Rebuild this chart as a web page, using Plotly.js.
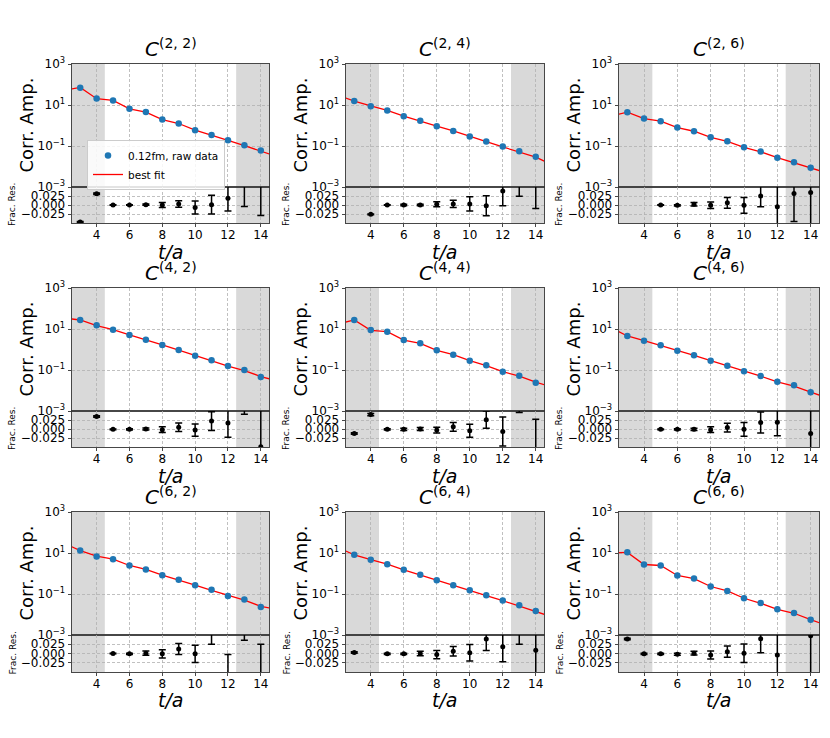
<!DOCTYPE html>
<html><head><meta charset="utf-8">
<script src="https://cdn.plot.ly/plotly-3.0.1.min.js"></script>
<style>html,body{margin:0;padding:0;background:#fff}#plot{width:830px;height:738px}</style>
</head><body><div id="plot"></div>
<script>
// ---------------- data ----------------
const tData = [3, 4, 5, 6, 7, 8, 9, 10, 11, 12, 13, 14];
const tFit  = [2, 3, 4, 5, 6, 7, 8, 9, 10, 11, 12, 13, 14, 15];
const xTicks = [4, 6, 8, 10, 12, 14];
const yMainTicks = [1e-3, 1e-1, 1e1, 1e3];
const yMainTickText = ['10<sup>−3</sup>', '10<sup>−1</sup>', '10<sup>1</sup>', '10<sup>3</sup>'];
const yResTicks = [-0.025, 0, 0.025];
const yResTickText = ['−0.025', '0.000', '0.025'];
const panelLabels = ['(2, 2)', '(2, 4)', '(2, 6)', '(4, 2)', '(4, 4)', '(4, 6)', '(6, 2)', '(6, 4)', '(6, 6)'];
const dataName = '0.12fm, raw data';
const fitName = 'best fit';

const corr_2_2 = [69.5, 20.9, 16.7, 6.5, 4.5, 1.96, 1.25, 0.59, 0.348, 0.191, 0.109, 0.0596];
const fit_2_2  = [51.5, 72.5, 20.3, 16.7, 6.5, 4.5, 1.96, 1.25, 0.594, 0.348, 0.188, 0.104, 0.057, 0.0303];
const res_2_2  = [-0.047, 0.031, 0.000, 0.000, 0.001, 0.000, 0.003, -0.007, 0.001, 0.019, 0.060, 0.060];
const err_2_2  = [0.001, 0.002, 0.001, 0.001, 0.002, 0.007, 0.009, 0.018, 0.026, 0.036, 0.064, 0.089];

const corr_2_4 = [15.5, 8.8, 5.4, 2.85, 1.69, 0.925, 0.546, 0.288, 0.164, 0.0935, 0.0553, 0.0303];
const fit_2_4  = [30.4, 15.5, 9.0, 5.4, 2.85, 1.69, 0.923, 0.544, 0.287, 0.164, 0.090, 0.052, 0.0285, 0.0123];
const res_2_4  = [null, -0.026, 0.000, 0.000, 0.000, 0.002, 0.003, 0.003, -0.002, 0.039, 0.070, 0.060];
const err_2_4  = [null, 0.001, 0.001, 0.002, 0.002, 0.007, 0.010, 0.020, 0.028, 0.041, 0.046, 0.070];

const corr_2_6 = [4.48, 2.19, 1.62, 0.79, 0.526, 0.267, 0.17, 0.0867, 0.0532, 0.027, 0.016, 0.00877];
const fit_2_6  = [2.85, 4.48, 2.19, 1.62, 0.79, 0.525, 0.267, 0.169, 0.0868, 0.052, 0.0271, 0.0155, 0.0085, 0.0048];
const res_2_6  = [null, null, 0.000, -0.001, 0.002, -0.001, 0.006, -0.001, 0.025, -0.005, 0.032, 0.035];
const err_2_6  = [null, null, 0.001, 0.002, 0.005, 0.009, 0.015, 0.022, 0.030, 0.070, 0.078, 0.100];

const corr_4_2 = [27.5, 15.1, 9.27, 5.1, 3.02, 1.66, 0.946, 0.5, 0.296, 0.157, 0.1, 0.0456];
const fit_4_2  = [34.4, 27.5, 14.6, 9.28, 5.1, 3.02, 1.66, 0.94, 0.5, 0.29, 0.154, 0.094, 0.048, 0.0291];
const res_4_2  = [null, 0.0345, -0.001, -0.001, 0.000, -0.002, 0.005, -0.003, 0.022, 0.017, 0.070, -0.049];
const err_4_2  = [null, 0.002, 0.001, 0.002, 0.003, 0.008, 0.012, 0.017, 0.026, 0.040, 0.029, 0.110];

const corr_4_4 = [27.5, 8.9, 7.4, 2.9, 2.0, 0.91, 0.56, 0.285, 0.169, 0.083, 0.053, 0.0241];
const fit_4_4  = [17.5, 27.8, 8.6, 7.4, 2.9, 2.0, 0.91, 0.556, 0.286, 0.165, 0.0836, 0.0496, 0.0259, 0.01426];
const res_4_4  = [-0.0127, 0.040, -0.001, -0.001, 0.000, -0.003, 0.006, -0.005, 0.026, -0.007, 0.070, -0.070];
const err_4_4  = [0.002, 0.003, 0.002, 0.003, 0.004, 0.008, 0.012, 0.018, 0.024, 0.040, 0.024, 0.097];

const corr_4_6 = [4.56, 2.7, 1.6, 0.877, 0.519, 0.285, 0.163, 0.086, 0.051, 0.027, 0.0179, 0.00815];
const fit_4_6  = [12.05, 4.56, 2.7, 1.6, 0.878, 0.52, 0.285, 0.163, 0.086, 0.050, 0.0265, 0.0165, 0.00826, 0.00446];
const res_4_6  = [null, null, -0.001, -0.001, -0.001, -0.002, 0.004, -0.001, 0.018, 0.019, null, -0.0127];
const err_4_6  = [null, null, 0.001, 0.002, 0.003, 0.008, 0.012, 0.019, 0.029, 0.038, null, 0.080];

const corr_6_2 = [13.3, 6.78, 5.02, 2.46, 1.57, 0.828, 0.49, 0.269, 0.159, 0.0807, 0.0535, 0.0234];
const fit_6_2  = [30.4, 13.0, 7.0, 5.02, 2.46, 1.57, 0.829, 0.484, 0.269, 0.149, 0.0865, 0.05, 0.0252, 0.0173];
const res_6_2  = [null, null, 0.000, -0.001, 0.001, -0.001, 0.012, -0.001, 0.070, -0.070, 0.070, -0.070];
const err_6_2  = [null, null, 0.001, 0.002, 0.006, 0.011, 0.015, 0.023, 0.045, 0.067, 0.034, 0.095];

const corr_6_4 = [8.18, 4.66, 2.86, 1.51, 0.86, 0.472, 0.269, 0.153, 0.087, 0.0478, 0.0282, 0.0149];
const fit_6_4  = [18.7, 8.15, 4.7, 2.86, 1.51, 0.86, 0.473, 0.268, 0.153, 0.084, 0.047, 0.0265, 0.0148, 0.0076];
const res_6_4  = [0.003, null, -0.001, -0.001, 0.000, -0.003, 0.006, 0.002, 0.039, 0.018, 0.070, 0.009];
const err_6_4  = [0.002, null, 0.002, 0.002, 0.006, 0.011, 0.013, 0.022, 0.031, 0.040, 0.045, 0.070];

const corr_6_6 = [11.0, 2.75, 2.46, 0.8, 0.569, 0.231, 0.142, 0.0621, 0.0367, 0.018, 0.0119, 0.00562];
const fit_6_6  = [10.3, 10.6, 2.75, 2.46, 0.8, 0.568, 0.232, 0.141, 0.0620, 0.0353, 0.018, 0.0115, 0.0056, 0.00286];
const res_6_6  = [0.039, -0.001, -0.001, -0.002, 0.001, -0.004, 0.005, 0.001, 0.040, -0.004, null, 0.048];
const err_6_6  = [0.002, 0.002, 0.002, 0.003, 0.005, 0.011, 0.015, 0.025, 0.038, 0.070, null, 0.100];

const corrSets = [corr_2_2, corr_2_4, corr_2_6, corr_4_2, corr_4_4, corr_4_6, corr_6_2, corr_6_4, corr_6_6];
const fitSets  = [fit_2_2, fit_2_4, fit_2_6, fit_4_2, fit_4_4, fit_4_6, fit_6_2, fit_6_4, fit_6_6];
const resSets  = [res_2_2, res_2_4, res_2_6, res_4_2, res_4_4, res_4_6, res_6_2, res_6_4, res_6_6];
const errSets  = [err_2_2, err_2_4, err_2_6, err_4_2, err_4_4, err_4_6, err_6_2, err_6_4, err_6_6];

// ---------------- layout geometry ----------------
const W = 830, H = 738;
const colPx = [[72, 269], [346, 544], [619, 819]];
const rowMainPx = [[64, 187], [288, 411], [512, 635]];
const rowResPx = [[187, 223], [411, 447], [635, 672]];
const px2x = p => p / W;
const px2y = p => 1 - p / H;

const FONT = 'DejaVu Sans';
const gridStyle = {showgrid: true, gridcolor: '#b0b0b0', gridwidth: 0.8, griddash: '3px,2px'};
const lineStyle = {showline: true, mirror: true, linecolor: '#333', linewidth: 0.9, zeroline: false};

const traces = [];
const layout = {
  width: W, height: H,
  margin: {l: 0, r: 0, t: 0, b: 0},
  paper_bgcolor: '#fff', plot_bgcolor: 'rgba(0,0,0,0)',
  font: {family: FONT, size: 12, color: '#000'},
  showlegend: true,
  legend: {
    x: px2x(87), y: px2y(140), xanchor: 'left', yanchor: 'top',
    bgcolor: 'rgba(255,255,255,0.85)', bordercolor: '#cccccc', borderwidth: 1,
    font: {family: FONT, size: 10.5}, tracegroupgap: 0, itemwidth: 30
  },
  shapes: [], annotations: []
};

const axName = (p, i) => (i === 1 ? p : p + i);

for (let k = 0; k < 9; k++) {
  const col = k % 3, row = Math.floor(k / 3);
  const mi = 2 * k + 1, ri = 2 * k + 2;
  const xd = [px2x(colPx[col][0]), px2x(colPx[col][1])];
  const ymd = [px2y(rowMainPx[row][1]), px2y(rowMainPx[row][0])];
  const yrd = [px2y(rowResPx[row][1]), px2y(rowResPx[row][0])];
  const xm = axName('x', mi), ym = axName('y', mi), xr = axName('x', ri), yr = axName('y', ri);

  layout[axName('xaxis', mi)] = Object.assign({
    domain: xd, anchor: ym, range: [2.5, 14.5], matches: xr,
    tickvals: xTicks, showticklabels: false, ticks: ''
  }, gridStyle, lineStyle);
  layout[axName('yaxis', mi)] = Object.assign({
    domain: ymd, anchor: xm, type: 'log', range: [-3, 3],
    tickvals: yMainTicks, ticktext: yMainTickText,
    ticks: 'outside', ticklen: 3.5, tickwidth: 0.9, tickcolor: '#333',
    tickfont: {family: FONT, size: 12}
  }, gridStyle, lineStyle);
  layout[axName('xaxis', ri)] = Object.assign({
    domain: xd, anchor: yr, range: [2.5, 14.5],
    tickvals: xTicks, ticks: 'outside', ticklen: 3.5, tickwidth: 0.9, tickcolor: '#333',
    tickfont: {family: FONT, size: 12}, ticklabelstandoff: -3
  }, gridStyle, lineStyle);
  layout[axName('yaxis', ri)] = Object.assign({
    domain: yrd, anchor: xr, range: [-0.05, 0.05],
    tickvals: yResTicks, ticktext: yResTickText,
    ticks: 'outside', ticklen: 3.5, tickwidth: 0.9, tickcolor: '#333',
    tickfont: {family: FONT, size: 12}
  }, gridStyle, lineStyle);

  // shaded excluded regions
  [[2.5, 4.5], [12.5, 14.5]].forEach(([a, b]) => {
    [[xm, ym], [xr, yr]].forEach(([xa, ya]) => {
      layout.shapes.push({
        type: 'rect', xref: xa, yref: ya + ' domain', x0: a, x1: b, y0: 0, y1: 1,
        fillcolor: 'rgba(128,128,128,0.3)', line: {width: 0}, layer: 'below'
      });
    });
  });

  // fit line
  traces.push({
    type: 'scatter', mode: 'lines', x: tFit, y: fitSets[k], xaxis: xm, yaxis: ym,
    line: {color: '#ff0000', width: 1.3}, name: fitName, legendrank: 2,
    showlegend: k === 0, hoverinfo: 'skip'
  });
  // data points
  traces.push({
    type: 'scatter', mode: 'markers', x: tData, y: corrSets[k], xaxis: xm, yaxis: ym,
    marker: {color: '#1f77b4', size: 6.5}, name: dataName, legendrank: 1,
    showlegend: k === 0
  });
  // residuals
  traces.push({
    type: 'scatter', mode: 'markers', x: tData, y: resSets[k], xaxis: xr, yaxis: yr,
    marker: {color: '#000', size: 5},
    error_y: {type: 'data', array: errSets[k], visible: true, color: '#000', thickness: 1.5, width: 3.5},
    showlegend: false
  });

  const cx = px2x((colPx[col][0] + colPx[col][1]) / 2);
  // panel title
  layout.annotations.push({
    xref: 'paper', yref: 'paper', x: cx, y: px2y(rowMainPx[row][0] - 1),
    xanchor: 'center', yanchor: 'bottom', showarrow: false,
    text: '<i>C</i><sup>' + panelLabels[k] + '</sup>',
    font: {family: FONT, size: 20, color: '#000'}
  });
  // y label main
  layout.annotations.push({
    xref: 'paper', yref: 'paper', x: px2x(colPx[col][0] - 46),
    y: px2y((rowMainPx[row][0] + rowMainPx[row][1]) / 2),
    xanchor: 'center', yanchor: 'middle', textangle: -90, showarrow: false,
    text: 'Corr. Amp.', font: {family: FONT, size: 18, color: '#000'}
  });
  // y label residual
  layout.annotations.push({
    xref: 'paper', yref: 'paper', x: px2x(colPx[col][0] - 60),
    y: px2y((rowResPx[row][0] + rowResPx[row][1]) / 2),
    xanchor: 'center', yanchor: 'middle', textangle: -90, showarrow: false,
    text: 'Frac. Res.', font: {family: FONT, size: 9, color: '#000'}
  });
  // x label
  layout.annotations.push({
    xref: 'paper', yref: 'paper', x: cx, y: px2y(252 + 224 * row),
    xanchor: 'center', yanchor: 'middle', showarrow: false,
    text: '<i>t/a</i>', font: {family: FONT, size: 19, color: '#000'}
  });
}

Plotly.newPlot('plot', traces, layout, {staticPlot: true, displayModeBar: false});
</script></body></html>
